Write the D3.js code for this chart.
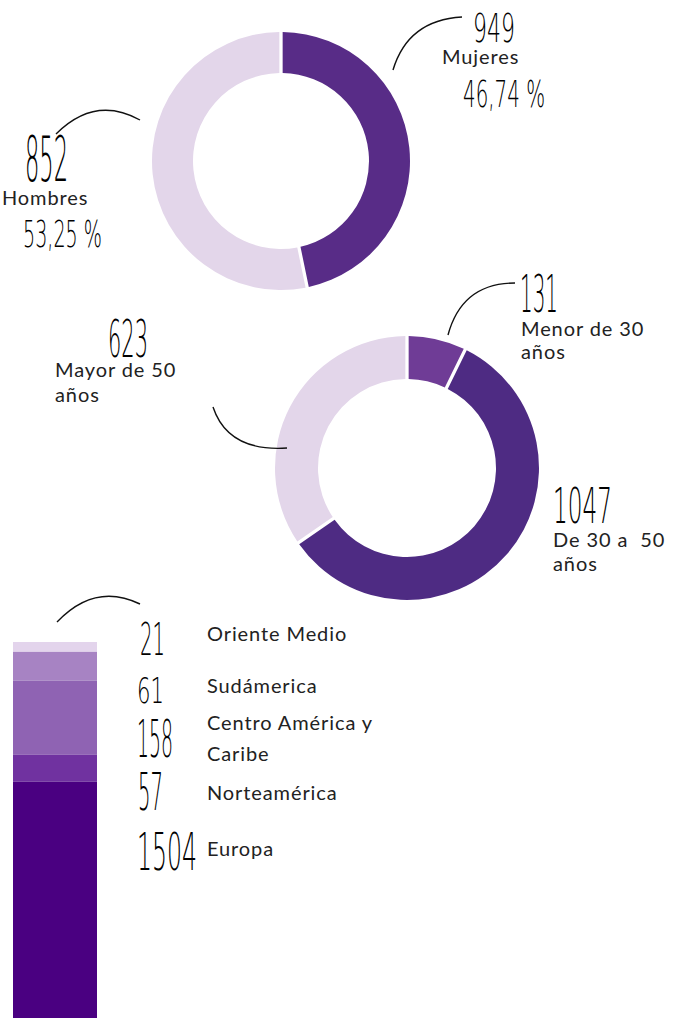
<!DOCTYPE html>
<html>
<head>
<meta charset="utf-8">
<script src="https://cdn.jsdelivr.net/npm/d3@7"></script>
<style>
  body { margin: 0; background: #fff; }
  .lbl { font-family: Lato, "Noto Sans", sans-serif; font-size: 20px; letter-spacing: 0.9px; fill: #222; white-space: pre; }
  .hand { font-family: "DejaVu Sans", sans-serif; font-weight: 200; fill: #000; }
</style>
</head>
<body>
<div id="chart"></div>
<script>
// Gender donut
const genderLabels = ["Mujeres", "Hombres"];
const genderCounts = [949, 852];
const genderPct = [46.74, 53.25];
const genderPctText = ["46,74 %", "53,25 %"];
const genderColors = ["#582c87", "#e3d6ea"];

// Age donut
const ageLabels = [["Menor de 30", "años"], ["De 30 a  50", "años"], ["Mayor de 50", "años"]];
const ageCounts = [131, 1047, 623];
const ageColors = ["#6f3c96", "#4e2b83", "#e3d6ea"];

// Region stacked bar
const regionLabels = [["Oriente Medio"], ["Sudámerica"], ["Centro América y", "Caribe"], ["Norteamérica"], ["Europa"]];
const regionCounts = [21, 61, 158, 57, 1504];
const regionColors = ["#e3d4ec", "#a783c3", "#8f63b3", "#7032a0", "#4a0081"];

const W = 694, H = 1024;
const svg = d3.select("#chart").append("svg")
    .attr("width", W)
    .attr("height", H)
    .attr("viewBox", `0 0 ${W} ${H}`);

// handwritten-ish number: left x, bottom y, digit height, total width
const hand = (txt, x, y, h, w) => {
    const t = svg.append("text")
        .attr("class", "hand")
        .attr("font-size", h / 0.73)
        .text(txt);
    const nat = t.node().getComputedTextLength();
    t.attr("transform", `translate(${x},${y}) scale(${w / nat},1)`);
};

const label = (lines, x, y, lh) => {
    const t = svg.append("text").attr("class", "lbl").attr("x", x).attr("y", y);
    lines.forEach((l, i) => t.append("tspan").attr("x", x).attr("dy", i ? lh : 0).text(l));
};

const curve = (d) => svg.append("path").attr("d", d)
    .attr("fill", "none").attr("stroke", "#111").attr("stroke-width", 1.4);

// ---- Donut 1 ----
const pie = d3.pie().sort(null).value((d) => d);
const arc1 = d3.arc().innerRadius(88).outerRadius(129).padAngle(0.03).padRadius(110);
const g1 = svg.append("g").attr("transform", "translate(281,161)");
g1.selectAll("path")
    .data(pie(genderPct))
    .enter()
    .append("path")
    .attr("d", arc1)
    .attr("fill", (d, i) => genderColors[i]);

curve("M393,70 Q408,20 462,17");
hand(String(genderCounts[0]), 473, 42, 28, 42);
label([genderLabels[0]], 442, 64, 26);
hand(genderPctText[0], 463, 107, 27, 82);

curve("M56,134 Q95,95 140,120");
hand(String(genderCounts[1]), 25, 181, 46, 43);
label([genderLabels[1]], 2, 205, 26);
hand(genderPctText[1], 23, 247, 27, 79);

// ---- Donut 2 ----
const arc2 = d3.arc().innerRadius(89).outerRadius(132).padAngle(0.03).padRadius(110);
const g2 = svg.append("g").attr("transform", "translate(407,468)");
g2.selectAll("path")
    .data(pie(ageCounts))
    .enter()
    .append("path")
    .attr("d", arc2)
    .attr("fill", (d, i) => ageColors[i]);

curve("M448,335 Q462,283 515,283");
hand(String(ageCounts[0]), 520, 312, 37, 38);
label(ageLabels[0], 521, 336, 23);

hand(String(ageCounts[1]), 553, 523, 36, 59);
label(ageLabels[1], 553, 547, 24);

curve("M213,407 Q228,452 287,448");
hand(String(ageCounts[2]), 108, 357, 37, 40);
label(ageLabels[2], 55, 377, 25);

// ---- Stacked bar ----
const total = d3.sum(regionCounts);
const y = d3.scaleLinear().domain([0, total]).range([642, 642 + total * 0.47]);
const stacked = [];
regionCounts.reduce((acc, v, i) => {
    stacked.push({ start: acc, end: acc + v, i });
    return acc + v;
}, 0);

svg.append("clipPath").attr("id", "barclip")
    .append("rect").attr("x", 0).attr("y", 0).attr("width", W).attr("height", 1018);

svg.append("g").attr("clip-path", "url(#barclip)")
    .selectAll("rect")
    .data(stacked)
    .enter()
    .append("rect")
    .attr("x", 13)
    .attr("width", 84)
    .attr("y", (d) => y(d.start))
    .attr("height", (d) => y(d.end) - y(d.start))
    .attr("fill", (d) => regionColors[d.i]);

curve("M57,622 Q95,582 140,604");

const numPos = [
    [140, 655, 33, 25],
    [137, 703, 26, 27],
    [137, 757, 37, 36],
    [138, 810, 37, 25],
    [137, 870, 37, 60]
];
const labelY = [641, 693, 730, 800, 856];
regionCounts.forEach((v, i) => {
    hand(String(v), ...numPos[i]);
    label(regionLabels[i], 207, labelY[i], 31);
});
</script>
</body>
</html>
